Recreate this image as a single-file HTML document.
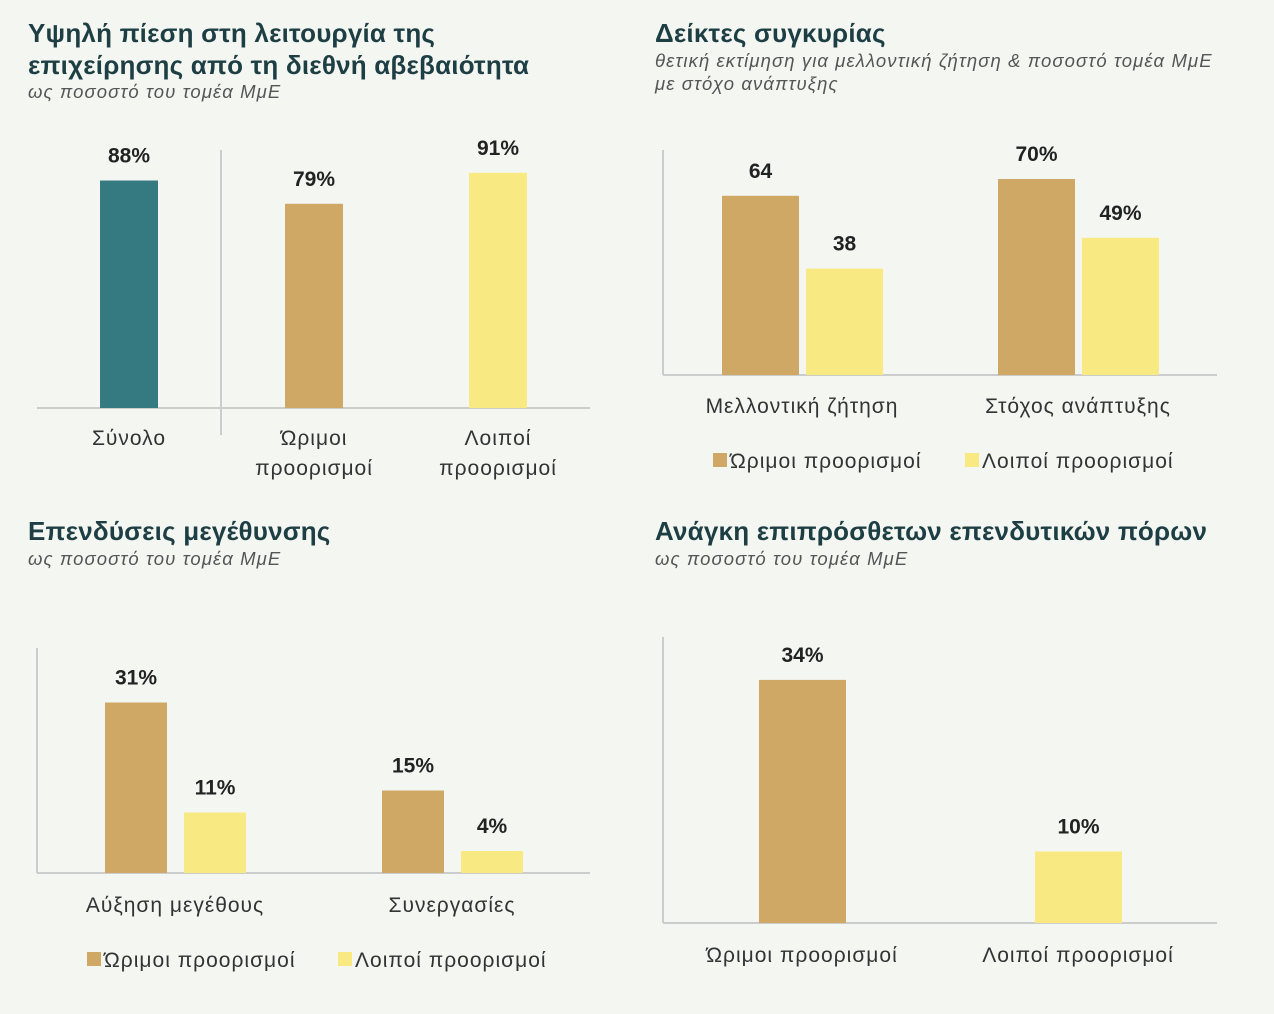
<!DOCTYPE html>
<html><head><meta charset="utf-8"><style>
body{margin:0;width:1274px;height:1014px;background:#f4f6f2;overflow:hidden;font-family:"Liberation Sans","DejaVu Sans",sans-serif;}
svg{position:absolute;left:0;top:0}
.t{font-size:26px;fill:#1d3f44;font-weight:bold;letter-spacing:0.2px}
.s{font-size:18.5px;fill:#555;font-style:italic;letter-spacing:1.1px}
.v{font-size:21px;font-weight:bold;fill:#222;text-anchor:middle}
.c{font-size:21px;fill:#333;text-anchor:middle;letter-spacing:1px}
.l{font-size:21px;fill:#333;letter-spacing:1px}
</style></head><body>
<svg id="svg" width="1274" height="1014">
<text class="t" x="28" y="42">Υψηλή πίεση στη λειτουργία της</text>
<text class="t" x="28" y="74">επιχείρησης από τη διεθνή αβεβαιότητα</text>
<text class="s" x="28" y="98">ως ποσοστό του τομέα ΜμΕ</text>
<text class="t" x="655" y="42">Δείκτες συγκυρίας</text>
<text class="s" x="655" y="67">θετική εκτίμηση για μελλοντική ζήτηση &amp; ποσοστό τομέα ΜμΕ</text>
<text class="s" x="655" y="90">με στόχο ανάπτυξης</text>
<text class="t" x="28" y="540">Επενδύσεις μεγέθυνσης</text>
<text class="s" x="28" y="565">ως ποσοστό του τομέα ΜμΕ</text>
<text class="t" x="655" y="540">Ανάγκη επιπρόσθετων επενδυτικών πόρων</text>
<text class="s" x="655" y="565">ως ποσοστό του τομέα ΜμΕ</text>
<line x1="221" y1="150" x2="221" y2="435" stroke="#ccc" stroke-width="2"/>
</svg>
<script>
const TAN="#d0a865", YEL="#f9e982", TEAL="#357a80";
// chart1
const c1Labels=["88%","79%","91%"];
const c1Values=[88,79,91];
const c1Cats=[["Σύνολο"],["Ώριμοι","προορισμοί"],["Λοιποί","προορισμοί"]];
// chart2
const c2Cats=["Μελλοντική ζήτηση","Στόχος ανάπτυξης"];
const c2Mature=[64,70];
const c2Other=[38,49];
const c2MatureLabels=["64","70%"];
const c2OtherLabels=["38","49%"];
// chart3
const c3Cats=["Αύξηση μεγέθους","Συνεργασίες"];
const c3Mature=[31,15];
const c3Other=[11,4];
const c3MatureLabels=["31%","15%"];
const c3OtherLabels=["11%","4%"];
// chart4
const c4Cats=["Ώριμοι προορισμοί","Λοιποί προορισμοί"];
const c4Values=[34,10];
const c4Labels=["34%","10%"];

const svg=document.getElementById('svg');
const NS="http://www.w3.org/2000/svg";
function mk(tag,attrs,text){const e=document.createElementNS(NS,tag);for(const k in attrs)e.setAttribute(k,attrs[k]);if(text!==undefined)e.textContent=text;svg.appendChild(e);return e;}
function yScale(base,k){return v=>base-v*k;}

function axis(x1,x2,base,vTop,name){
  const h=mk('line',{x1:x1,y1:base,x2:x2,y2:base,stroke:'#ccc','stroke-width':2});
  
  
  if(vTop){const v=mk('line',{x1:x1,y1:vTop,x2:x1,y2:base,stroke:'#ccc','stroke-width':2});
  
  }
}
function bar(x,w,base,y,color,name,label){
  const r=mk('rect',{x:x,y:y,width:w,height:base-y,fill:color});
  
  
  const t=mk('text',{x:x+w/2,y:y-18,class:'v'},label);
  
  
}
function legend(x1,x2,y,name){
  [[x1,TAN,"Ώριμοι προορισμοί"],[x2,YEL,"Λοιποί προορισμοί"]].forEach((d,i)=>{
    const r=mk('rect',{x:d[0],y:y-13,width:14,height:14,fill:d[1]});
    
    
    const t=mk('text',{x:d[0]+17,y:y+2,class:'l'},d[2]);
    
    
  });
}

// chart 1
axis(37,590,408,null,'chart1');
const y1=yScale(408,2.585);
const c1X=[100,285,469], c1Col=[TEAL,TAN,YEL];
c1Values.forEach((v,i)=>{
  bar(c1X[i],58,408,y1(v),c1Col[i],'chart1-bar-'+i,c1Labels[i]);
  c1Cats[i].forEach((s,j)=>{const t=mk('text',{x:c1X[i]+29,y:445+j*30,class:'c'},s);
    
    });
});

// chart 2
axis(663,1217,375,150,'chart2');
const y2=yScale(375,2.8);
const c2X=[722,998];
c2Cats.forEach((c,i)=>{
  bar(c2X[i],77,375,y2(c2Mature[i]),TAN,'chart2-bar-mature-'+i,c2MatureLabels[i]);
  bar(c2X[i]+84,77,375,y2(c2Other[i]),YEL,'chart2-bar-other-'+i,c2OtherLabels[i]);
  const t=mk('text',{x:c2X[i]+80,y:413,class:'c'},c);
  
  
});
legend(713,965,466,'chart2');

// chart 3
axis(37,590,873,648,'chart3');
const y3=yScale(873,5.5);
const c3X=[105,382];
c3Cats.forEach((c,i)=>{
  bar(c3X[i],62,873,y3(c3Mature[i]),TAN,'chart3-bar-mature-'+i,c3MatureLabels[i]);
  bar(c3X[i]+79,62,873,y3(c3Other[i]),YEL,'chart3-bar-other-'+i,c3OtherLabels[i]);
  const t=mk('text',{x:c3X[i]+70,y:912,class:'c'},c);
  
  
});
legend(87,338,965,'chart3');

// chart 4
axis(663,1217,923,637,'chart4');
const y4=yScale(923,7.15);
const c4X=[759,1035], c4Col=[TAN,YEL];
c4Values.forEach((v,i)=>{
  bar(c4X[i],87,923,y4(v),c4Col[i],'chart4-bar-'+i,c4Labels[i]);
  const t=mk('text',{x:c4X[i]+43,y:962,class:'c'},c4Cats[i]);
  
  
});
</script>
</body></html>
